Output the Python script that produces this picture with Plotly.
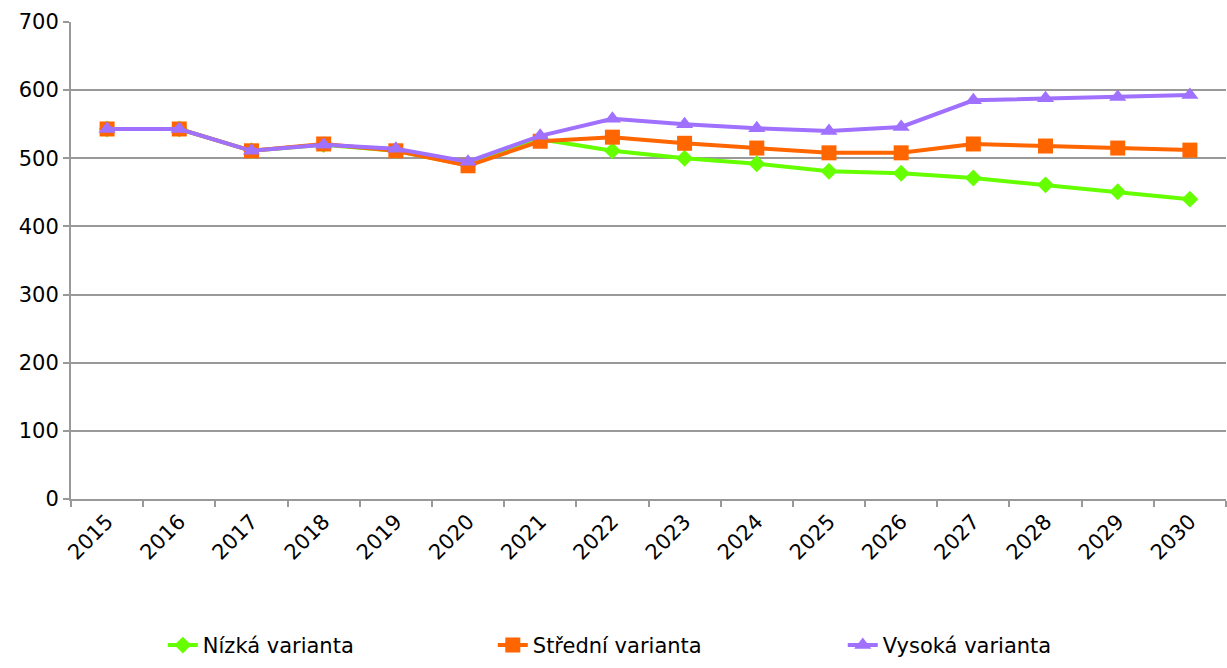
import plotly.graph_objects as go

years = [str(y) for y in range(2015, 2031)]
nizka = [543, 543, 511, 520, 511, 490, 528, 511, 500, 492, 481, 478, 471, 461, 451, 440]
stredni = [543, 543, 511, 521, 511, 489, 525, 531, 522, 515, 508, 508, 521, 518, 515, 512]
vysoka = [543, 543, 511, 520, 514, 495, 533, 558, 550, 544, 540, 546, 585, 588, 590, 593]

FONT = "DejaVu Sans, Verdana, sans-serif"
GRID = "#999999"

fig = go.Figure()
fig.add_trace(go.Scatter(x=years, y=nizka, name="Nízká varianta", mode="lines+markers",
                         line=dict(color="#66FF00", width=4),
                         marker=dict(symbol="diamond", size=13, color="#66FF00"),
                         legend="legend"))
fig.add_trace(go.Scatter(x=years, y=stredni, name="Střední varianta", mode="lines+markers",
                         line=dict(color="#FF6600", width=4),
                         marker=dict(symbol="square", size=15, color="#FF6600"),
                         legend="legend2"))
fig.add_trace(go.Scatter(x=years, y=vysoka, name="Vysoká varianta", mode="lines+markers",
                         line=dict(color="#A070FF", width=4),
                         marker=dict(symbol="triangle-up", size=15, color="#A070FF"),
                         legend="legend3"))

# legend kept just inside the bottom edge so it doesn't push the margin
leg = dict(orientation="h", yanchor="middle", y=-0.307, xanchor="left",
           font=dict(family=FONT, size=21, color="#000"), bgcolor="rgba(0,0,0,0)")
fig.update_layout(
    width=1227, height=668,
    margin=dict(l=71, r=1, t=22, b=169),
    plot_bgcolor="white", paper_bgcolor="white",
    font=dict(family=FONT, size=21, color="#000"),
    legend=dict(leg, x=0.0795),
    legend2=dict(leg, x=0.3652),
    legend3=dict(leg, x=0.6682),
    showlegend=True,
)
fig.update_xaxes(type="category", range=[-0.5, len(years) - 0.5], tickson="boundaries",
                 ticks="outside", ticklen=6, tickcolor=GRID, tickwidth=2, tickangle=-45,
                 showgrid=False, showline=True, linecolor=GRID, linewidth=2, automargin=False,
                 tickfont=dict(family=FONT, size=21, color="#000"))
fig.update_yaxes(range=[0, 700], dtick=100, ticks="outside", ticklen=6,
                 tickcolor=GRID, tickwidth=2, showgrid=True, gridcolor=GRID, gridwidth=2,
                 showline=True, linecolor=GRID, linewidth=2, zeroline=False, automargin=False,
                 tickfont=dict(family=FONT, size=21, color="#000"))

# drop the default page margin so the figure fills the window exactly
fig.write_html("out.html", config={"displayModeBar": False},
               post_script="document.body.style.margin = '0';")
